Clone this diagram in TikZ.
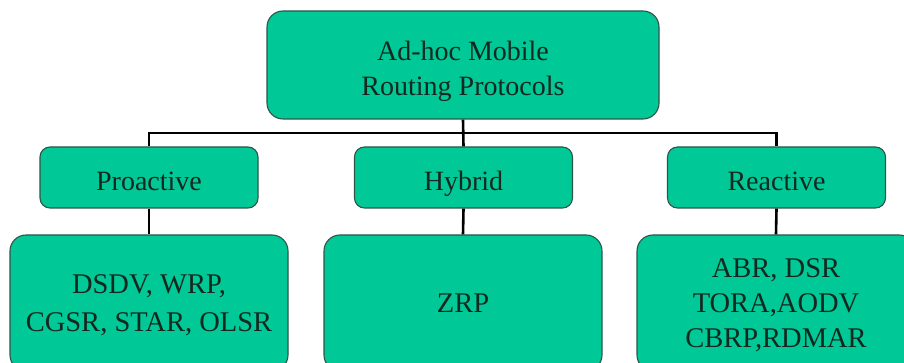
\documentclass[tikz,border=0pt]{standalone}
\usepackage{fontspec}
\setmainfont{Liberation Serif}
\usetikzlibrary{calc}
\definecolor{boxfill}{RGB}{0,200,150}
\definecolor{boxline}{RGB}{45,85,72}
\definecolor{boxtext}{RGB}{20,40,32}
\newcommand\hi[1]{\rule{0pt}{#1}}
\newcommand\lo[1]{\rule[-#1]{0pt}{#1}}
\begin{document}
\begin{tikzpicture}[x=1pt,y=-1pt,
  box/.style={draw=boxline, fill=boxfill, line width=1.1pt, text=boxtext,
    align=center, font=\fontsize{28}{35}\selectfont, inner sep=0pt},
  smallbox/.style={box, rounded corners=10pt, minimum width=218pt, minimum height=61pt},
  bigbox/.style={box, rounded corners=16pt, minimum width=278pt, minimum height=136pt,
    font=\fontsize{28.5}{35}\selectfont},
  link/.style={draw=black, line width=2.6pt}]
\useasboundingbox (0,0) rectangle (904,363);
\clip (0,0) rectangle (904,363);
\fill[white] (0,0) rectangle (904,363);
\node[box, rounded corners=16pt, minimum width=392pt, minimum height=108pt] (top) at (463,65)
  {\hi{31.8pt}Ad-hoc Mobile\\Routing Protocols\lo{6.5pt}};
\node[smallbox] (pro) at (149,177.5) {\hi{31.8pt}Proactive\lo{6.5pt}};
\node[smallbox] (hyb) at (463.5,177.5) {\hi{31.8pt}Hybrid\lo{6.5pt}};
\node[smallbox] (rea) at (776.5,177.5) {\hi{31.8pt}Reactive\lo{6.5pt}};
\node[bigbox] (bl) at (149,303) {\hi{28.5pt}DSDV, WRP,\\[3pt]CGSR, STAR, OLSR\lo{9.8pt}};
\node[bigbox] (bm) at (463,303) {\hi{28.5pt}ZRP\lo{9.8pt}};
\node[bigbox] (br) at (776,303) {\hi{28.5pt}ABR, DSR\\TORA,AODV\\CBRP,RDMAR\lo{9.8pt}};
\coordinate (bus) at ($(top.south)!0.5!(hyb.north)$);
\draw[link] (top.south) -- (hyb.north);
\draw[link] (pro.north) |- (bus) -| (rea.north);
\draw[link] (pro.south) -- (bl.north);
\draw[link] (hyb.south) -- (bm.north);
\draw[link] (rea.south) -- (br.north);
\end{tikzpicture}
\end{document}
